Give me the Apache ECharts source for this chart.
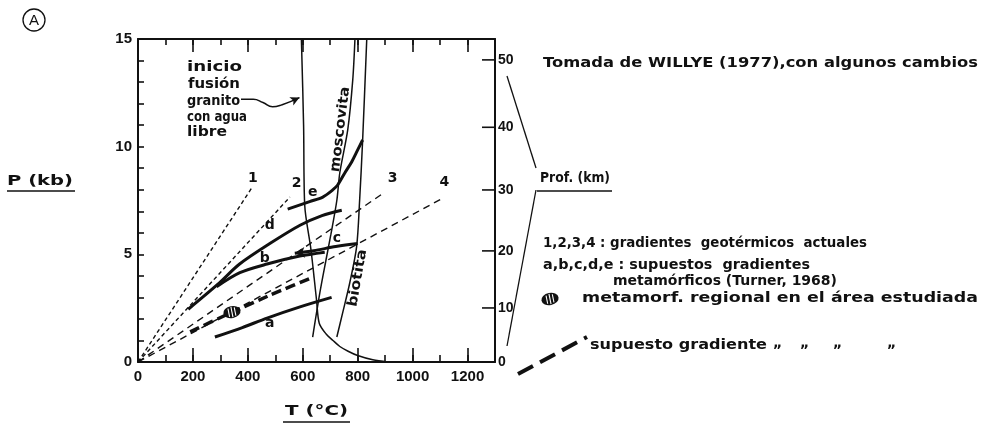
<!DOCTYPE html>
<html>
<head>
<meta charset="utf-8">
<script src="https://cdn.jsdelivr.net/npm/echarts/dist/echarts.min.js"></script>
<style>
  html, body { margin: 0; padding: 0; background: #fff; }
  #chart { width: 984px; height: 430px; }
</style>
</head>
<body>
<div id="chart"></div>
<script>
// ---- axis ranges ----
const T_MAX = 1300;       // °C
const P_MAX = 15;         // kb

// ---- present-day geothermal gradients 1-4 (straight from the origin) ----
const geoNames = ['1', '2', '3', '4'];
const geoEndT = [415, 553, 900, 1109];
const geoEndP = [8.1, 7.66, 7.9, 7.6];

// ---- metamorphic gradients a-e (Turner, 1968) ----
const gradA_T = [280, 380, 470, 590, 705];
const gradA_P = [1.16, 1.6, 2.04, 2.56, 3.0];
const gradB_T = [286, 371, 470, 589, 680];
const gradB_P = [3.5, 4.15, 4.55, 4.92, 5.1];
const gradC_T = [571, 640, 720, 800];
const gradC_P = [5.05, 5.17, 5.36, 5.5];
const gradD_T = [183, 290, 370, 480, 590, 670, 742];
const gradD_P = [2.45, 3.6, 4.55, 5.5, 6.35, 6.8, 7.05];
const gradE_T = [545, 625, 673, 709, 727, 753, 778, 800, 818];
const gradE_P = [7.1, 7.45, 7.66, 7.99, 8.22, 8.78, 9.29, 9.85, 10.31];

// ---- assumed gradient for the studied area ----
const assumedT = [190, 340, 480, 640];
const assumedP = [1.4, 2.3, 3.1, 3.95];
const regionalMetaT = [342];
const regionalMetaP = [2.32];

// ---- reaction curves ----
const graniteT = [595, 603, 607, 630, 650, 660, 685, 710, 735, 765, 800, 855, 910];
const graniteP = [15, 11, 7.3, 5.2, 2.9, 1.8, 1.3, 1.0, 0.72, 0.5, 0.3, 0.1, 0];
const muscoviteT = [790, 782, 764, 735, 724, 702, 687, 662, 636];
const muscoviteP = [15, 13.1, 10.8, 8.8, 7.5, 5.9, 4.9, 3.2, 1.16];
const biotiteT = [833, 818, 807, 796, 771, 745, 724];
const biotiteP = [15, 10.3, 7.5, 5.35, 3.67, 2.27, 1.16];

// ---- pointer from the granite note to the solidus ----
const pointerT = [375, 420, 455, 490, 525, 588];
const pointerP = [12.2, 12.2, 12.05, 11.85, 11.95, 12.28];

// ---- depth scale on the right (km) and the pressure each depth sits at ----
const depthKm = [0, 10, 20, 30, 40, 50];
const depthP = [0, 2.51, 5.16, 7.99, 10.9, 14.03];

// ---- curve labels ----
const curveLabelText = ['1', '2', '3', '4', 'a', 'b', 'c', 'd', 'e'];
const curveLabelT = [418, 578, 927, 1116, 480, 462, 724, 480, 636];
const curveLabelP = [8.55, 8.3, 8.55, 8.36, 1.81, 4.83, 5.76, 6.36, 7.9];
const mineralNames = ['moscovita', 'biotita'];
const mineralT = [737, 800];
const mineralP = [10.8, 3.9];

// ---- styling helpers ----
const AXIS_FONT = '"Liberation Sans", Arial, sans-serif';
const NOTE_FONT = '"DejaVu Sans", "Liberation Sans", sans-serif';
const INK = '#111';
const measureCtx = document.createElement('canvas').getContext('2d');
function fontOf(size, weight, family) { return (weight || 'bold') + ' ' + size + 'px ' + (family || NOTE_FONT); }
function stretch(text, font, width) {
  if (!width) return 1;
  measureCtx.font = font;
  const w = measureCtx.measureText(text).width;
  if (!(w > 0)) return 1;
  return Math.min(1.5, Math.max(0.8, width / w));
}
function textStyle(text, font, align) {
  return { text, font, fill: INK, align: align || 'left', verticalAlign: 'middle',
           textAlign: align || 'left', textVerticalAlign: 'middle' };
}
function pairs(xs, ys) { return xs.map((x, i) => [x, ys[i]]); }
function curve(name, xs, ys, width, dash, smooth) {
  return {
    type: 'line', name, data: pairs(xs, ys), symbol: 'none', showSymbol: false,
    smooth: smooth || 0, silent: true, animation: false, z: 3,
    lineStyle: { color: INK, width, type: dash || 'solid', cap: 'butt' }
  };
}
function hatchedOval(cx, cy) {
  return {
    type: 'group', x: cx, y: cy, rotation: 0.2, children: [
      { type: 'circle', shape: { cx: 0, cy: 0, r: 6 }, scaleX: 1.45, style: { fill: INK } },
      { type: 'line', shape: { x1: -3.2, y1: -4.2, x2: -3.2, y2: 4.2 }, style: { stroke: '#fff', lineWidth: 1.1 } },
      { type: 'line', shape: { x1: 0, y1: -5.2, x2: 0, y2: 5.2 }, style: { stroke: '#fff', lineWidth: 1.1 } },
      { type: 'line', shape: { x1: 3.2, y1: -4.2, x2: 3.2, y2: 4.2 }, style: { stroke: '#fff', lineWidth: 1.1 } }
    ]
  };
}
function note(text, x, y, width, size) {
  const font = fontOf(size || 14);
  return { type: 'text', x, y, scaleX: stretch(text, font, width), silent: true, style: textStyle(text, font) };
}
function rule(x1, y1, x2, y2, w) {
  return { type: 'line', silent: true, shape: { x1, y1, x2, y2 }, style: { stroke: INK, lineWidth: w || 1.3 } };
}

const axisFont = { fontFamily: AXIS_FONT, fontWeight: 'bold', fontSize: 15, color: INK };
function xAxisDef(position, interval, tickLen, withLabels, withLine) {
  return {
    type: 'value', position, min: 0, max: T_MAX, interval,
    axisLine: { show: withLine, onZero: false, lineStyle: { color: INK, width: 2 } },
    axisTick: { show: true, inside: true, length: tickLen, lineStyle: { color: INK, width: 1.6 } },
    axisLabel: withLabels ? Object.assign({ margin: 7, formatter: v => (v % 200 === 0 && v <= 1200) ? String(v) : '' }, axisFont)
                          : { show: false },
    splitLine: { show: false }
  };
}

// ---- series ----
const series = [];
geoNames.forEach((n, i) => {
  const dash = i < 2 ? [4, 3] : [7, 5];
  series.push(curve('gradiente ' + n, [0, geoEndT[i]], [0, geoEndP[i]], 1.4, dash));
});
series.push(curve('a', gradA_T, gradA_P, 3, 'solid', 0.3));
series.push(curve('b', gradB_T, gradB_P, 3, 'solid', 0.3));
const cSeries = curve('c', gradC_T, gradC_P, 3, 'solid', 0.3);
cSeries.showSymbol = true;
cSeries.data[0] = { value: cSeries.data[0], symbol: 'arrow', symbolSize: [8, 10], symbolRotate: 95, itemStyle: { color: INK } };
series.push(cSeries);
series.push(curve('d', gradD_T, gradD_P, 3, 'solid', 0.3));
series.push(curve('e', gradE_T, gradE_P, 3, 'solid', 0.3));
series.push(curve('supuesto gradiente', assumedT, assumedP, 3.5, [10, 5], 0.2));
series.push(curve('granito', graniteT, graniteP, 1.5, 'solid', 0.3));
series.push(curve('moscovita', muscoviteT, muscoviteP, 1.5, 'solid', 0.3));
series.push(curve('biotita', biotiteT, biotiteP, 1.5, 'solid', 0.3));
const pointer = curve('pointer', pointerT, pointerP, 1.5, 'solid', 0.5);
pointer.showSymbol = true;
const lastIdx = pointer.data.length - 1;
pointer.data[lastIdx] = { value: pointer.data[lastIdx], symbol: 'arrow', symbolSize: [7, 9], symbolRotate: -65, itemStyle: { color: INK } };
series.push(pointer);

// studied-area oval
series.push({
  type: 'custom', coordinateSystem: 'cartesian2d', silent: true, animation: false, z: 6,
  data: pairs(regionalMetaT, regionalMetaP),
  renderItem: (params, api) => {
    const p = api.coord([api.value(0), api.value(1)]);
    return hatchedOval(p[0], p[1]);
  }
});

// curve letters
series.push({
  type: 'custom', coordinateSystem: 'cartesian2d', silent: true, animation: false, z: 6,
  data: pairs(curveLabelT, curveLabelP),
  renderItem: (params, api) => {
    const p = api.coord([api.value(0), api.value(1)]);
    return { type: 'text', x: p[0], y: p[1], style: textStyle(curveLabelText[params.dataIndex], fontOf(14), 'center') };
  }
});

// mineral names written along their curves
const mineralAngle = [83, 80];
const mineralLen = [86, 58];
series.push({
  type: 'custom', coordinateSystem: 'cartesian2d', silent: true, animation: false, z: 6,
  data: pairs(mineralT, mineralP),
  renderItem: (params, api) => {
    const i = params.dataIndex;
    const p = api.coord([api.value(0), api.value(1)]);
    const font = fontOf(14);
    return { type: 'text', x: p[0], y: p[1], rotation: mineralAngle[i] * Math.PI / 180,
             scaleX: stretch(mineralNames[i], font, mineralLen[i]),
             style: textStyle(mineralNames[i], font, 'center') };
  }
});

// depth scale ticks on the right frame
series.push({
  type: 'custom', coordinateSystem: 'cartesian2d', silent: true, animation: false, z: 6, clip: false,
  data: depthP.map((p, i) => [T_MAX, p, depthKm[i]]),
  renderItem: (params, api) => {
    const p = api.coord([api.value(0), api.value(1)]);
    return { type: 'group', children: [
      { type: 'line', shape: { x1: p[0] - 13, y1: p[1], x2: p[0], y2: p[1] }, style: { stroke: INK, lineWidth: 1.6 } },
      { type: 'text', x: p[0] + 3, y: p[1], style: textStyle(String(api.value(2)), fontOf(14, 'bold', AXIS_FONT), 'left') }
    ] };
  }
});

// ---- free annotations ----
const graphics = [
  { type: 'circle', silent: true, shape: { cx: 34, cy: 20, r: 11 }, style: { fill: 'none', stroke: INK, lineWidth: 1.3 } },
  { type: 'text', x: 34, y: 21, silent: true, style: textStyle('A', fontOf(15, 'normal', AXIS_FONT), 'center') },

  note('P (kb)', 7, 181, 66, 14),
  rule(7, 191, 75, 191),
  note('T (°C)', 285, 411, 63, 14),
  rule(283, 422, 350, 422),
  note('Prof. (km)', 540, 178, 70, 14),
  rule(537, 191, 612, 191),
  rule(507, 76, 536, 168),
  rule(536, 190, 507, 346),

  note('inicio', 187, 67, 55, 14),
  note('fusión', 188, 84, 52, 14),
  note('granito', 187, 101, 53, 14),
  note('con agua', 187, 117, 60, 14),
  note('libre', 187, 132, 40, 14),

  note('Tomada de WILLYE (1977),con algunos cambios', 543, 63, 435, 14),
  note('1,2,3,4 : gradientes  geotérmicos  actuales', 543, 243, 324, 14),
  note('a,b,c,d,e : supuestos  gradientes', 543, 265, 267, 14),
  note('metamórficos (Turner, 1968)', 613, 281, 224, 14),
  hatchedOval(550, 299),
  note('metamorf. regional en el área estudiada', 582, 298, 396, 14),
  { type: 'polyline', silent: true, shape: { points: [[518, 374], [587, 337]] },
    style: { stroke: INK, lineWidth: 4, lineDash: [17, 8], fill: 'none' } },
  note('supuesto gradiente', 590, 345, 177, 14),
  note('„', 773, 343, 0, 14),
  note('„', 800, 343, 0, 14),
  note('„', 833, 343, 0, 14),
  note('„', 887, 343, 0, 14)
];

const chart = echarts.init(document.getElementById('chart'), null, { renderer: 'canvas' });
chart.setOption({
  backgroundColor: '#fff',
  animation: false,
  grid: { left: 138, right: 489, top: 39, bottom: 68, containLabel: false, outerBoundsMode: 'none' },
  xAxis: [
    xAxisDef('bottom', 100, 7, true, true),
    xAxisDef('bottom', 200, 14, false, false),
    xAxisDef('top', 100, 6, false, true),
    xAxisDef('top', 200, 13, false, false)
  ],
  yAxis: [
    {
      type: 'value', position: 'left', min: 0, max: P_MAX, interval: 1,
      axisLine: { show: true, onZero: false, lineStyle: { color: INK, width: 2 } },
      axisTick: { show: true, inside: true, length: 6, lineStyle: { color: INK, width: 1.6 } },
      axisLabel: Object.assign({ margin: 6, formatter: v => (v % 5 === 0) ? String(v) : '' }, axisFont),
      splitLine: { show: false }
    },
    {
      type: 'value', position: 'right', min: 0, max: P_MAX,
      axisLine: { show: true, onZero: false, lineStyle: { color: INK, width: 2 } },
      axisTick: { show: false }, axisLabel: { show: false }, splitLine: { show: false }
    }
  ],
  series,
  graphic: graphics
});
</script>
</body>
</html>
